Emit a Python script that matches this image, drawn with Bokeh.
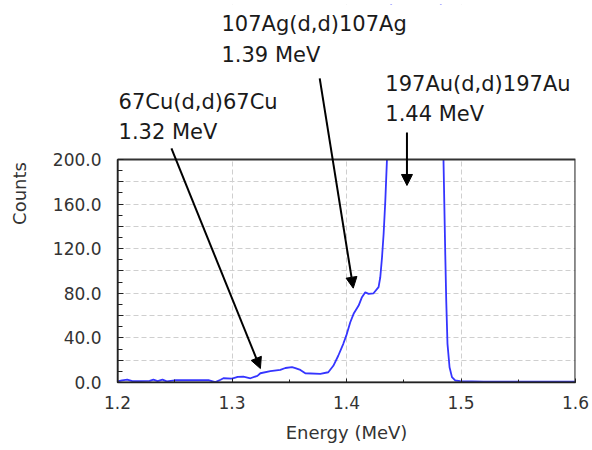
from bokeh.plotting import figure
from bokeh.models import (FixedTicker, CustomJSTickFormatter, Arrow, NormalHead,
                          Label, Range1d)
from bokeh.embed import file_html
from bokeh.resources import INLINE

# ---- data ----
energy = [1.200, 1.204, 1.2085, 1.213, 1.220, 1.228, 1.2314, 1.235, 1.2393, 1.243,
          1.250, 1.260, 1.270, 1.280, 1.2855, 1.290, 1.2925, 1.300, 1.305, 1.3099,
          1.3161, 1.3222, 1.3248, 1.3335, 1.3422, 1.3466, 1.3524, 1.3553, 1.3597, 1.364,
          1.3771, 1.3841, 1.3885, 1.3928, 1.3972, 1.3998, 1.4033, 1.4062, 1.4106, 1.4135,
          1.4164, 1.4193, 1.4236, 1.428, 1.4295, 1.431, 1.4324, 1.4339, 1.4353, 1.437,
          1.445, 1.460, 1.475, 1.483, 1.4847, 1.4862, 1.4871, 1.4882, 1.490, 1.4921,
          1.4949, 1.4993, 1.520, 1.550, 1.600]
counts = [1.0, 2.0, 2.5, 1.2, 1.3, 1.5, 2.6, 1.3, 2.6, 1.0,
          2.0, 2.0, 2.0, 2.0, 0.3, 2.5, 3.8, 3.5, 5.0, 5.2,
          3.8, 6.0, 8.3, 10.2, 11.3, 13.0, 13.7, 12.8, 11.3, 8.3,
          7.8, 9.2, 15.0, 24.0, 34.7, 42.0, 54.0, 61.6, 69.0, 76.5,
          81.0, 79.5, 80.0, 85.5, 94.4, 112.0, 133.0, 163.0, 199.0, 250.0,
          600.0, 900.0, 800.0, 300.0, 200.0, 118.0, 73.5, 34.7, 13.7, 4.8,
          1.8, 1.2, 0.8, 0.8, 0.8]

X0, X1 = 1.2, 1.6          # plotted energy window
Y0, Y1 = 0.0, 200.0        # plotted counts window
Y_TOP = 339.0              # headroom above the plot for the annotations

x_ticks = [1.2, 1.3, 1.4, 1.5, 1.6]
x_minor = [1.2, 1.25, 1.3, 1.35, 1.4, 1.45, 1.5, 1.55, 1.6]
y_ticks = [0, 20, 40, 60, 80, 100, 120, 140, 160, 180, 200]
y_minor = [0, 10, 20, 30, 40, 50, 60, 70, 80, 90, 100, 110, 120, 130, 140, 150,
           160, 170, 180, 190, 200]

# annotations: (line 1, line 2, text x, text y1, text y2, arrow start, arrow end)
notes = [
    ("67Cu(d,d)67Cu", "1.32 MeV", 1.2009, 252.0, 225.0, (1.2471, 209.9), (1.3248, 12.5)),
    ("107Ag(d,d)107Ag", "1.39 MeV", 1.2908, 321.5, 294.0, (1.3766, 272.7), (1.4059, 84.6)),
    ("197Au(d,d)197Au", "1.44 MeV", 1.4339, 268.0, 241.0, (1.4528, 224.2), (1.4528, 176.7)),
]

FONT = "DejaVu Sans"

p = figure(width=592, height=450, output_backend="svg", toolbar_location=None,
           x_range=Range1d(X0, X1), y_range=Range1d(Y0, Y_TOP),
           min_border_left=117, min_border_right=17, min_border_top=4,
           min_border_bottom=68)
p.background_fill_color = "white"
p.border_fill_color = "white"
p.outline_line_color = None

p.line(energy, counts, line_color="#3535ff", line_width=1.8)
# white mask above the counts window, then the plot box
p.quad(left=X0, right=X1, bottom=Y1, top=Y_TOP, fill_color="white", line_color=None)
p.quad(left=X0, right=X1, bottom=Y0, top=Y1, fill_color=None,
       line_color="#333333", line_width=2.2)

# axes
p.xaxis.ticker = FixedTicker(ticks=x_ticks, minor_ticks=x_minor)
p.yaxis.ticker = FixedTicker(ticks=y_ticks, minor_ticks=y_minor)
p.xaxis.formatter = CustomJSTickFormatter(code="return tick.toFixed(1);")
p.yaxis.formatter = CustomJSTickFormatter(
    code="return (Math.round(tick) % 40 == 0) ? tick.toFixed(1) : '';")
p.yaxis.bounds = (Y0, Y1)
p.xaxis.bounds = (X0, X1)

for ax in (p.xaxis[0], p.yaxis[0]):
    ax.axis_line_color = "#222222"
    ax.axis_line_width = 1.5
    ax.major_tick_line_color = "#222222"
    ax.minor_tick_line_color = "#222222"
    ax.major_tick_out = 0
    ax.minor_tick_out = 0
    ax.major_label_text_font = FONT
    ax.major_label_text_font_size = "17px"
    ax.major_label_text_color = "#333333"
    ax.axis_label_text_font = FONT
    ax.axis_label_text_font_size = "18px"
    ax.axis_label_text_font_style = "normal"
    ax.axis_label_text_color = "#333333"

p.xaxis.major_tick_in = 4
p.xaxis.minor_tick_in = 3
p.yaxis.major_tick_in = 6
p.yaxis.minor_tick_in = 5
p.xaxis.major_label_standoff = 13
p.yaxis.major_label_standoff = 16
p.xaxis.axis_label = "Energy (MeV)"
p.yaxis.axis_label = "Counts"
p.xaxis.axis_label_standoff = 10
p.yaxis.axis_label_standoff = 20

p.grid.grid_line_color = "#cfcfcf"
p.grid.grid_line_dash = "5 3"
p.grid.grid_line_width = 1

for l1, l2, tx, ty1, ty2, a0, a1 in notes:
    for txt, ty in ((l1, ty1), (l2, ty2)):
        p.add_layout(Label(x=tx, y=ty, text=txt, text_font=FONT,
                           text_font_size="21px", text_color="#1a1a1a",
                           text_baseline="alphabetic", text_align="left"))
    p.add_layout(Arrow(x_start=a0[0], y_start=a0[1], x_end=a1[0], y_end=a1[1],
                       line_color="black", line_width=2,
                       end=NormalHead(size=11, fill_color="black", line_color="black")))

open("out.html", "w").write(file_html(p, INLINE))
